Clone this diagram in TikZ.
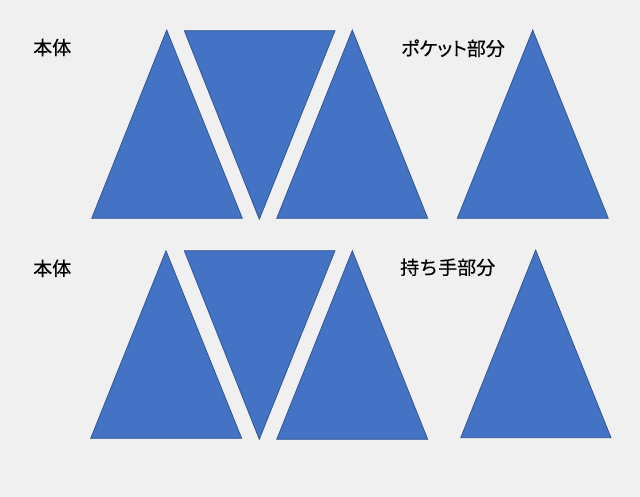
\documentclass[tikz,border=0pt]{standalone}
\usepackage{fontspec}
\newfontfamily\jpfont[FakeBold=0.4]{Noto Sans CJK JP}
\newfontfamily\jppfont[FakeBold=0.4,RawFeature=+palt]{Noto Sans CJK JP}
\definecolor{bg}{HTML}{F0F0F0}
\definecolor{tri}{HTML}{4472C4}
\definecolor{triedge}{HTML}{2F528F}
\begin{document}
\begin{tikzpicture}[x=1pt,y=-1pt,
  piece/.style={fill=tri,draw=triedge,line width=0.7pt,line join=miter},
  lbl/.style={font=\jpfont\fontsize{19}{21}\selectfont,text=black,inner sep=0pt,anchor=west},
  plbl/.style={lbl,font=\jppfont\fontsize{19}{21}\selectfont}]
\fill[bg] (0,0) rectangle (640,497);
\useasboundingbox (0,0) rectangle (640,497);
% top row
\draw[piece] (166.7,30) -- (91.7,218.3) -- (242.3,218.3) -- cycle;
\draw[piece] (184.3,30.7) -- (335,30.7) -- (259.3,219.3) -- cycle;
\draw[piece] (352.3,30) -- (276.7,218.3) -- (427.7,218.3) -- cycle;
\draw[piece] (532.7,30) -- (457.3,218.3) -- (608.3,218.3) -- cycle;
% bottom row
\draw[piece] (166,250.7) -- (90.7,438.3) -- (241.7,438.3) -- cycle;
\draw[piece] (184.3,250.7) -- (335,250.7) -- (259.3,439.3) -- cycle;
\draw[piece] (352.3,250.7) -- (276.7,439.3) -- (427.7,439.3) -- cycle;
\draw[piece] (535.7,250) -- (460.7,437.7) -- (611,437.7) -- cycle;
% labels
\node[lbl] (t1) at (33,47.5) {本体};
\node[plbl] (t2) at (401,48.3) {ポケット部分};
\node[lbl] (t3) at (33,268.3) {本体};
\node[lbl] (t4) at (400,267.3) {持ち手部分};
\end{tikzpicture}
\end{document}
